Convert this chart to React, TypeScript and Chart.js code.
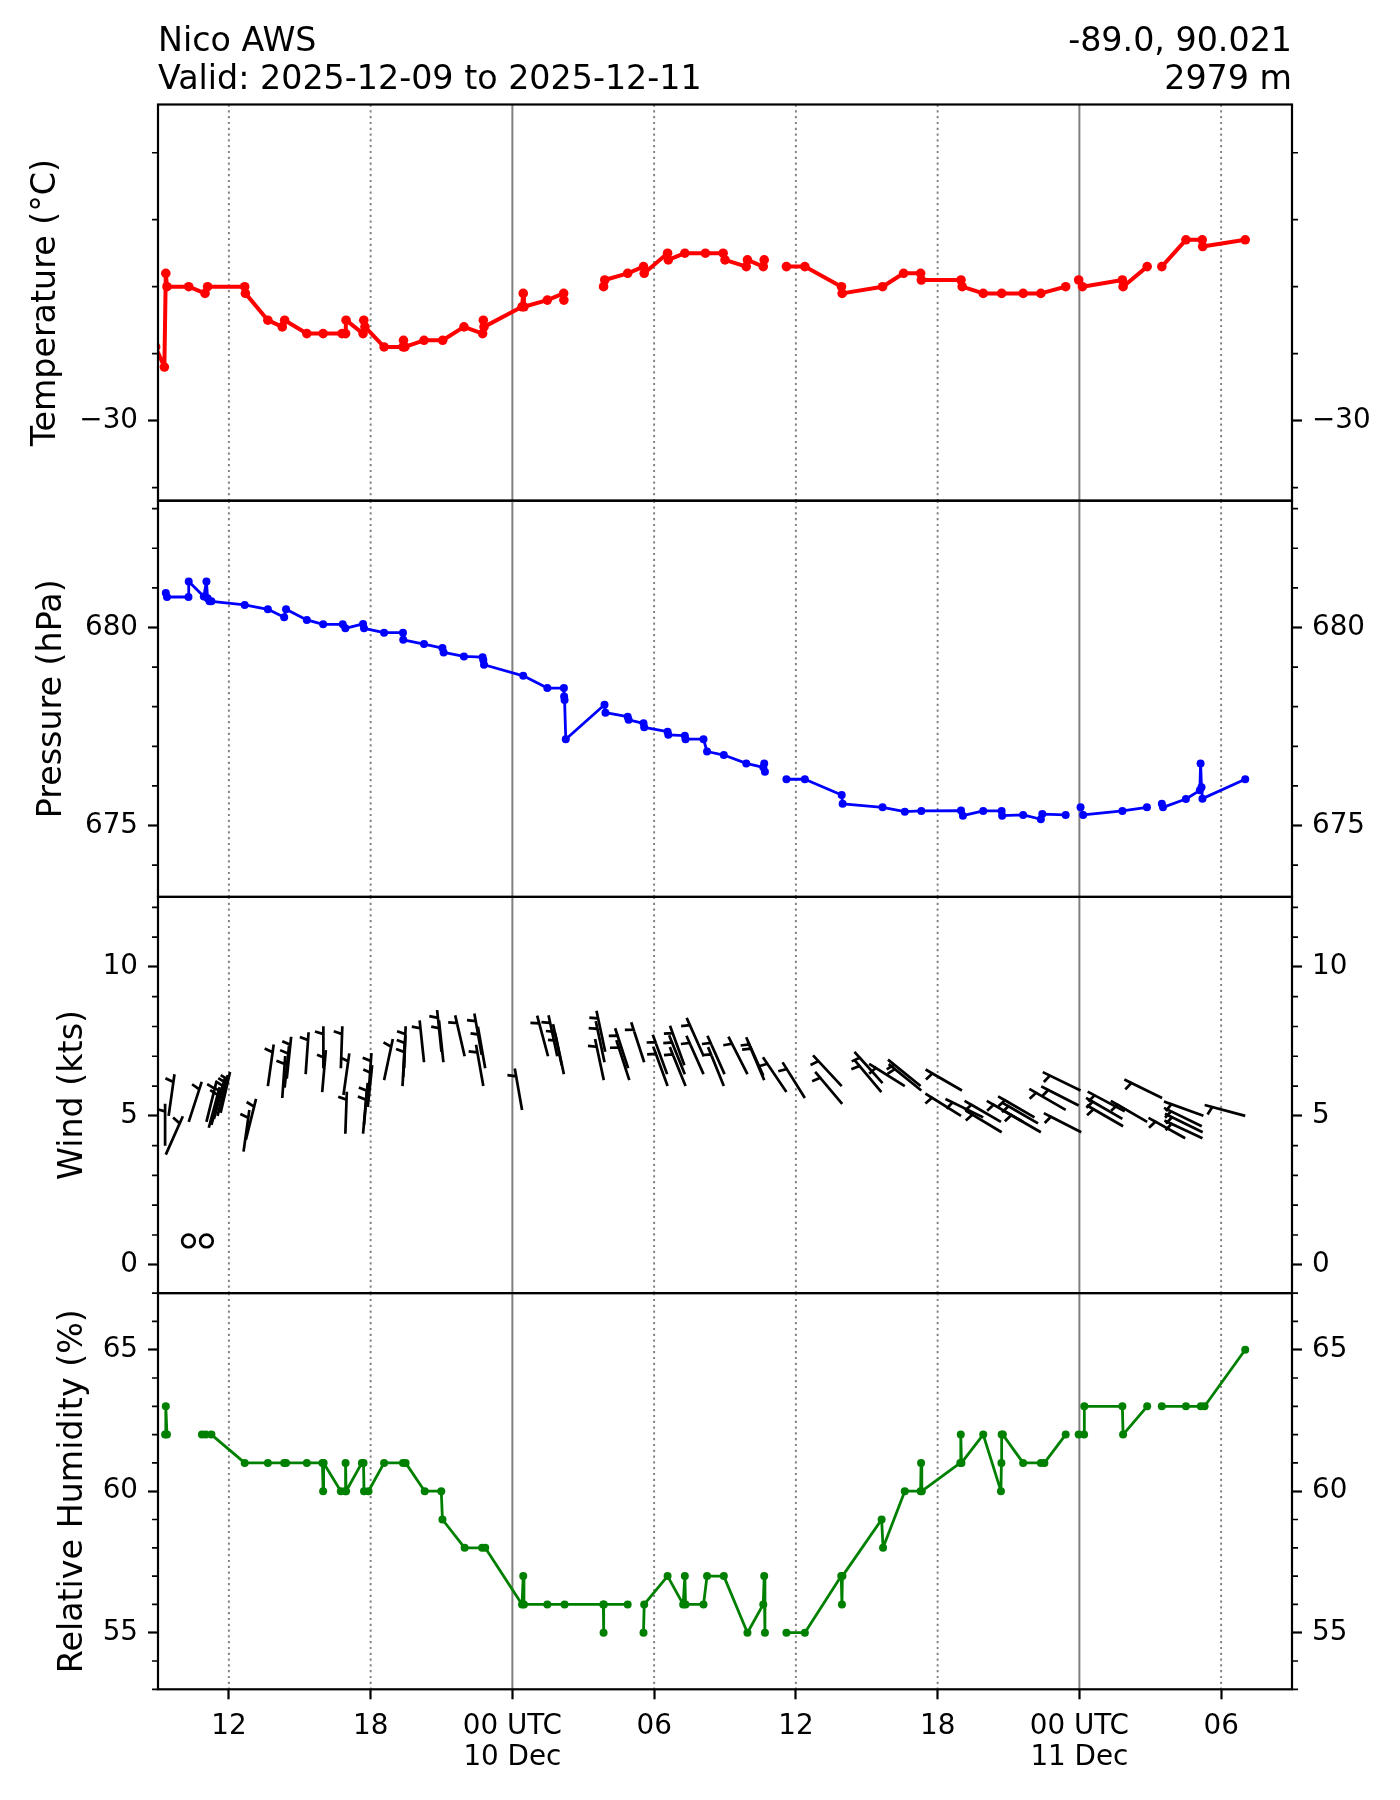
import React, { useEffect, useRef } from 'react';
import { Chart, registerables } from 'chart.js';

Chart.register(...registerables);

// ---------------- data (time axis = hours since 2025-12-09 00:00 UTC) ----------------
const X_MIN = 9;
const X_MAX = 57;
const X_TICKS = [12, 18, 24, 30, 36, 42, 48, 54];
const X_TICK_LABELS: (string | string[])[] = ['12', '18', ['00 UTC', '10 Dec'], '06', '12', '18', ['00 UTC', '11 Dec'], '06'];
const X_DAY_TICKS = [24, 48];

const HEADER_LEFT = ['Nico AWS', 'Valid: 2025-12-09 to 2025-12-11'];
const HEADER_RIGHT = ['-89.0, 90.021', '2979 m'];

const TEMP_LABEL = 'Temperature (°C)';
const TEMP_RANGE = [-32.39, -20.56];
const TEMP_TICKS = [-30];
const TEMP_MINOR_TICKS = [-32, -28, -26, -24, -22];
const TEMP_HOURS = [8.9, 9.27, 9.33, 9.38, 10.3, 10.99, 11.1, 12.67, 12.7, 13.65, 14.26, 14.36, 15.3, 15.99, 16.79, 16.94, 16.96, 17.68, 17.71, 17.76, 18.57, 19.37, 19.39, 19.45, 20.26, 21.05, 21.95, 22.74, 22.77, 22.8, 24.41, 24.46, 24.49, 25.48, 26.17, 26.18, 27.0, 27.86, 27.91, 28.88, 29.55, 29.58, 30.57, 30.6, 31.3, 32.17, 32.92, 33.0, 33.9, 33.95, 34.62, 34.66, 35.1, 35.6, 36.38, 37.93, 37.96, 39.67, 40.56, 41.28, 41.31, 42.99, 43.04, 43.93, 44.71, 45.62, 46.37, 47.42, 47.7, 47.97, 48.13, 49.82, 49.85, 50.87, 51.2, 51.49, 52.51, 53.2, 53.22, 55.02];
const TEMP_VALUES = [-27.8, -28.4, -25.6, -26.0, -26.0, -26.2, -26.0, -26.0, -26.2, -27.0, -27.2, -27.0, -27.4, -27.4, -27.4, -27.4, -27.0, -27.4, -27.0, -27.2, -27.8, -27.8, -27.6, -27.8, -27.6, -27.6, -27.2, -27.4, -27.0, -27.2, -26.6, -26.2, -26.6, -26.4, -26.2, -26.4, null, -26.0, -25.8, -25.6, -25.4, -25.6, -25.0, -25.2, -25.0, -25.0, -25.0, -25.2, -25.4, -25.2, -25.4, -25.2, null, -25.4, -25.4, -26.0, -26.2, -26.0, -25.6, -25.6, -25.8, -25.8, -26.0, -26.2, -26.2, -26.2, -26.2, -26.0, null, -25.8, -26.0, -25.8, -26.0, -25.4, null, -25.4, -24.6, -24.6, -24.8, -24.6];

const PRES_LABEL = 'Pressure (hPa)';
const PRES_RANGE = [673.2, 683.2];
const PRES_TICKS = [675, 680];
const PRES_MINOR_TICKS = [674, 676, 677, 678, 679, 681, 682, 683];
const PRES_HOURS = [9.33, 9.38, 10.29, 10.3, 10.94, 11.05, 11.1, 11.18, 11.26, 12.67, 13.65, 14.34, 14.42, 15.3, 15.99, 16.82, 16.93, 17.68, 17.72, 18.57, 19.37, 19.38, 20.26, 21.04, 21.09, 21.95, 22.74, 22.77, 22.8, 24.46, 25.48, 26.18, 26.19, 26.21, 26.26, 27.9, 27.94, 28.88, 28.92, 29.55, 29.58, 30.57, 30.6, 31.3, 31.33, 32.09, 32.24, 32.95, 33.9, 34.62, 34.66, 34.69, 35.1, 35.6, 36.38, 37.94, 37.98, 39.67, 40.61, 41.31, 42.99, 43.07, 43.93, 44.71, 44.73, 45.62, 46.37, 46.43, 47.42, 47.7, 48.05, 48.16, 49.82, 50.86, 51.2, 51.49, 51.54, 52.51, 53.1, 53.13, 53.17, 53.21, 55.02];
const PRES_VALUES = [680.87, 680.77, 680.77, 681.16, 680.78, 681.16, 680.74, 680.66, 680.66, 680.57, 680.46, 680.26, 680.46, 680.19, 680.08, 680.08, 679.98, 680.09, 679.98, 679.87, 679.87, 679.69, 679.58, 679.48, 679.37, 679.27, 679.25, 679.18, 679.06, 678.78, 678.47, 678.47, 678.26, 678.17, 677.18, 678.05, 677.85, 677.75, 677.67, 677.58, 677.48, 677.37, 677.29, 677.27, 677.18, 677.18, 676.87, 676.78, 676.57, 676.47, 676.57, 676.36, null, 676.17, 676.17, 675.77, 675.55, 675.46, 675.35, 675.37, 675.38, 675.25, 675.37, 675.37, 675.25, 675.27, 675.16, 675.29, 675.27, null, 675.46, 675.27, 675.37, 675.46, null, 675.55, 675.46, 675.67, 675.89, 676.57, 675.97, 675.68, 676.17];

const WIND_LABEL = 'Wind (kts)';
const WIND_RANGE = [-0.95, 12.35];
const WIND_TICKS = [0, 5, 10];
const WIND_MINOR_TICKS = [1, 2, 3, 4, 6, 7, 8, 9, 11, 12];
const WIND_HOURS = [9.3, 9.33, 9.45, 10.29, 10.3, 11.05, 11.05, 11.15, 11.26, 11.37, 11.52, 11.65, 12.62, 12.72, 13.65, 14.26, 14.36, 14.45, 15.25, 15.95, 16.0, 16.74, 16.85, 16.93, 17.68, 17.72, 17.88, 17.91, 18.57, 19.35, 19.38, 19.42, 20.26, 21.0, 21.08, 21.98, 22.7, 22.77, 22.85, 24.41, 25.51, 25.9, 26.09, 26.18, 27.87, 27.9, 27.93, 28.9, 28.95, 29.58, 30.55, 30.57, 31.28, 31.3, 31.33, 32.09, 32.1, 32.95, 32.98, 33.95, 34.62, 34.66, 35.6, 36.38, 37.94, 37.96, 39.62, 39.67, 40.61, 41.28, 41.31, 42.99, 43.03, 43.93, 44.68, 44.71, 45.62, 46.1, 46.25, 46.37, 47.42, 47.97, 48.05, 48.08, 49.82, 49.85, 49.92, 50.87, 51.5, 52.48, 53.18, 53.21, 53.22, 53.25, 55.02];
const WIND_SPEEDS = [4.0, 3.7, 5.0, 0.8, 4.8, 0.8, 4.8, 4.6, 4.7, 4.9, 5.0, 5.1, 3.8, 4.2, 6.0, 5.6, 5.95, 6.25, 6.4, 5.8, 6.6, 6.6, 5.7, 4.4, 4.4, 4.7, 5.3, 5.7, 6.2, 6.0, 6.3, 6.6, 6.8, 7.15, 6.8, 7.0, 7.05, 6.0, 6.6, 5.2, 7.0, 7.0, 6.7, 6.4, 6.2, 6.8, 7.15, 6.6, 6.2, 6.8, 6.4, 6.0, 6.7, 6.4, 6.0, 6.4, 7.0, 6.0, 6.4, 6.4, 6.35, 6.2, 5.8, 5.6, 6.0, 5.4, 5.8, 6.1, 6.0, 6.0, 5.85, 5.0, 5.85, 4.95, 4.8, 4.45, 4.8, 4.95, 4.75, 4.45, 5.2, 5.35, 5.85, 4.45, 4.9, 4.65, 5.15, 4.8, 5.6, 4.25, 4.65, 4.25, 4.45, 5.0, 5.0];
const WIND_DIRS = [0, 24, 8, 0, 18, 0, 14, 15, 16, 15, 14, 13, 8, 14, 8, 4, 6, 6, 4, 5, 0, 2, 8, 2, 5, 5, 6, 4, 12, 3, 3, 2, 354, 354, 354, 347, 350, 350, 350, 350, 345, 348, 348, 348, 348, 348, 348, 342, 342, 342, 340, 340, 340, 338, 338, 336, 336, 338, 336, 333, 336, 337, 326, 328, 317, 320, 320, 318, 302, 309, 309, 302, 300, 296, 300, 301, 300, 300, 300, 300, 300, 297, 296, 297, 300, 300, 298, 300, 296, 299, 296, 295, 296, 290, 285];

const RH_LABEL = 'Relative Humidity (%)';
const RH_RANGE = [53, 67];
const RH_TICKS = [55, 60, 65];
const RH_MINOR_TICKS = [53, 54, 56, 57, 58, 59, 61, 62, 63, 64, 66, 67];
const RH_HOURS = [9.3, 9.33, 9.38, 10.0, 10.86, 11.02, 11.26, 12.67, 13.65, 14.34, 14.42, 15.3, 15.96, 15.99, 16.01, 16.74, 16.92, 16.94, 16.96, 17.63, 17.7, 17.72, 17.91, 18.57, 19.37, 19.48, 20.29, 20.99, 21.04, 21.98, 22.72, 22.85, 24.41, 24.46, 24.49, 25.48, 26.21, 27.85, 27.86, 27.87, 28.88, 29.2, 29.55, 29.58, 30.57, 31.23, 31.3, 31.33, 32.09, 32.24, 32.95, 33.95, 34.62, 34.66, 34.69, 35.1, 35.6, 36.38, 37.92, 37.95, 37.97, 39.63, 39.69, 40.61, 41.28, 41.3, 41.33, 42.96, 42.98, 43.01, 43.93, 44.68, 44.7, 44.71, 44.76, 45.62, 46.37, 46.52, 47.42, 47.7, 47.97, 48.2, 48.21, 49.82, 49.85, 50.87, 51.2, 51.49, 52.51, 53.14, 53.3, 55.02];
const RH_VALUES = [62, 63, 62, null, 62, 62, 62, 61, 61, 61, 61, 61, 61, 60, 61, 60, 60, 61, 60, 61, 61, 60, 60, 61, 61, 61, 60, 60, 59, 58, 58, 58, 56, 57, 56, 56, 56, 56, 55, 56, 56, null, 55, 56, 57, 56, 57, 56, 56, 57, 57, 55, 56, 57, 55, null, 55, 55, 57, 56, 57, 59, 58, 60, 60, 61, 60, 61, 62, 61, 62, 60, 61, 62, 62, 61, 61, 61, 62, null, 62, 62, 63, 63, 62, 63, null, 63, 63, 63, 63, 65];

// ---------------- layout & style ----------------
const CANVAS_W = 1400;
const CANVAS_H = 1800;
const PLOT_LEFT = 158;
const PLOT_RIGHT = 1292;
const PANEL_TOP = 104.5;
const PANEL_HEIGHT = 396.2;
const FONT = 'DejaVu Sans';
const TICK_FONT = 27.8;
const LABEL_FONT = 33.3;

Chart.defaults.font.family = FONT;
Chart.defaults.color = '#000';

const fmt = (v: number) => (v < 0 ? '\u2212' + Math.abs(v) : String(v));
const pts = (xs: number[], ys: (number | null)[]) => xs.map((x, i) => ({ x, y: ys[i] }));

// matplotlib-style wind barb (flipped for the southern hemisphere)
function drawBarb(ctx: CanvasRenderingContext2D, px: number, py: number, speed: number, dirDeg: number) {
  const L = 42;
  const spacing = L * 0.125;
  const fh = L * 0.4;
  const fw = L * 0.25;
  const rounded = 5 * Math.round(speed / 5);
  if (rounded === 0) {
    ctx.beginPath();
    ctx.arc(px, py, L * 0.15, 0, Math.PI * 2);
    ctx.stroke();
    return;
  }
  const d = (dirDeg * Math.PI) / 180;
  const ux = Math.sin(d);
  const uy = -Math.cos(d);
  const sx = -Math.cos(d);
  const sy = -Math.sin(d);
  const P = (a: number, b: number) => [px + ux * a + sx * b, py + uy * a + sy * b];
  const nflags = Math.floor(rounded / 50);
  let rem = rounded - nflags * 50;
  const nfull = Math.floor(rem / 10);
  rem -= nfull * 10;
  const half = rem >= 5;
  let offset = L;
  const verts: number[][] = [P(0, 0)];
  for (let i = 0; i < nflags; i++) {
    if (offset !== L) offset += spacing / 2;
    verts.push(P(offset, 0), P(offset - fw / 2, fh), P(offset - fw, 0));
    offset -= fw + spacing;
  }
  for (let i = 0; i < nfull; i++) {
    verts.push(P(offset, 0), P(offset + fw / 2, fh), P(offset, 0));
    offset -= spacing;
  }
  if (half) {
    if (offset === L) {
      verts.push(P(offset, 0));
      offset -= 1.5 * spacing;
    }
    verts.push(P(offset, 0), P(offset + fw / 4, fh / 2), P(offset, 0));
  }
  ctx.beginPath();
  ctx.moveTo(verts[0][0], verts[0][1]);
  for (let i = 1; i < verts.length; i++) ctx.lineTo(verts[i][0], verts[i][1]);
  ctx.closePath();
  ctx.stroke();
}

const vgridPlugin = {
  id: 'vgrid',
  beforeDatasetsDraw(chart: any) {
    const { ctx, chartArea: a, scales } = chart;
    ctx.save();
    ctx.strokeStyle = '#808080';
    X_TICKS.forEach((v) => {
      const px = scales.x.getPixelForValue(v);
      const day = X_DAY_TICKS.includes(v);
      ctx.lineWidth = day ? 2 : 1.9;
      ctx.setLineDash(day ? [] : [2.2, 3.6]);
      ctx.beginPath();
      ctx.moveTo(px, a.top);
      ctx.lineTo(px, a.bottom);
      ctx.stroke();
    });
    ctx.restore();
  },
};

const makeFramePlugin = (minor: number[]) => ({
  id: 'frame',
  afterDraw(chart: any) {
    const { ctx, chartArea: a, scales } = chart;
    ctx.save();
    ctx.setLineDash([]);
    ctx.strokeStyle = '#000';
    ctx.lineWidth = 1.7;
    minor.forEach((v) => {
      const py = scales.y.getPixelForValue(v);
      if (py < a.top - 1 || py > a.bottom + 1) return;
      ctx.beginPath();
      ctx.moveTo(a.left - 6, py);
      ctx.lineTo(a.left, py);
      ctx.moveTo(a.right, py);
      ctx.lineTo(a.right + 6, py);
      ctx.stroke();
    });
    ctx.lineWidth = 2.2;
    ctx.strokeRect(a.left, a.top, a.right - a.left, a.bottom - a.top);
    ctx.restore();
  },
});

const headerPlugin = {
  id: 'header',
  afterDraw(chart: any) {
    const { ctx } = chart;
    ctx.save();
    ctx.fillStyle = '#000';
    ctx.font = `${LABEL_FONT}px "${FONT}"`;
    ctx.textBaseline = 'alphabetic';
    ctx.textAlign = 'left';
    HEADER_LEFT.forEach((t, i) => ctx.fillText(t, PLOT_LEFT, 51 + i * 38));
    ctx.textAlign = 'right';
    HEADER_RIGHT.forEach((t, i) => ctx.fillText(t, PLOT_RIGHT, 51 + i * 38));
    ctx.restore();
  },
};

const barbPlugin = {
  id: 'barbs',
  afterDatasetsDraw(chart: any) {
    const { ctx, chartArea: a, scales } = chart;
    const data = chart.data.datasets[0].data;
    ctx.save();
    ctx.beginPath();
    ctx.rect(a.left, a.top, a.right - a.left, a.bottom - a.top);
    ctx.clip();
    ctx.strokeStyle = '#000';
    ctx.lineWidth = 2.7;
    ctx.lineJoin = 'miter';
    ctx.lineCap = 'butt';
    data.forEach((p: any, i: number) => {
      drawBarb(ctx, scales.x.getPixelForValue(p.x), scales.y.getPixelForValue(p.y), p.y, WIND_DIRS[i]);
    });
    ctx.restore();
  },
};

type Spec = {
  id: string;
  index: number;
  label: string;
  labelPad: number;
  range: number[];
  ticks: number[];
  minor: number[];
  dataset: any;
  extra: any[];
};

const lineSet = (xs: number[], ys: (number | null)[], color: string, width: number, radius: number) => ({
  data: pts(xs, ys),
  borderColor: color,
  backgroundColor: color,
  borderWidth: width,
  pointRadius: radius,
  pointBorderWidth: 0,
  pointBackgroundColor: color,
  spanGaps: false,
  tension: 0,
  borderJoinStyle: 'round',
});

const PANELS: Spec[] = [
  { id: 'temp', index: 0, label: TEMP_LABEL, labelPad: 26.7, range: TEMP_RANGE, ticks: TEMP_TICKS, minor: TEMP_MINOR_TICKS,
    dataset: lineSet(TEMP_HOURS, TEMP_VALUES, '#ff0000', 4, 4.8), extra: [headerPlugin] },
  { id: 'pres', index: 1, label: PRES_LABEL, labelPad: 32.5, range: PRES_RANGE, ticks: PRES_TICKS, minor: PRES_MINOR_TICKS,
    dataset: lineSet(PRES_HOURS, PRES_VALUES, '#0000ff', 2.8, 4), extra: [] },
  { id: 'wind', index: 2, label: WIND_LABEL, labelPad: 53.7, range: WIND_RANGE, ticks: WIND_TICKS, minor: WIND_MINOR_TICKS,
    dataset: { data: pts(WIND_HOURS, WIND_SPEEDS), showLine: false, pointRadius: 0, borderWidth: 0 }, extra: [barbPlugin] },
  { id: 'rh', index: 3, label: RH_LABEL, labelPad: 53.7, range: RH_RANGE, ticks: RH_TICKS, minor: RH_MINOR_TICKS,
    dataset: lineSet(RH_HOURS, RH_VALUES, '#008000', 2.8, 4), extra: [] },
];

function buildConfig(spec: Spec): any {
  const top = PANEL_TOP + spec.index * PANEL_HEIGHT;
  const bottom = top + PANEL_HEIGHT;
  const isBottom = spec.index === 3;
  const yAxis = (side: 'left' | 'right') => ({
    type: 'linear',
    axis: 'y',
    position: side,
    min: spec.range[0],
    max: spec.range[1],
    bounds: 'data',
    afterBuildTicks: (s: any) => { s.ticks = spec.ticks.map((v) => ({ value: v })); },
    afterFit: (s: any) => { s.width = side === 'left' ? PLOT_LEFT : CANVAS_W - PLOT_RIGHT; },
    grid: { display: true, drawOnChartArea: false, drawTicks: true, tickLength: 10, tickWidth: 2.2, tickColor: '#000' },
    border: { display: false },
    ticks: { color: '#000', font: { family: FONT, size: TICK_FONT }, padding: 10, callback: (v: number) => fmt(v) },
    title: side === 'left'
      ? { display: true, text: spec.label, color: '#000', font: { family: FONT, size: LABEL_FONT, lineHeight: 1.2 }, padding: { top: spec.labelPad, bottom: 0 } }
      : { display: false },
  });
  const xAxis = isBottom
    ? {
        type: 'linear',
        min: X_MIN,
        max: X_MAX,
        bounds: 'data',
        afterBuildTicks: (s: any) => { s.ticks = X_TICKS.map((v) => ({ value: v })); },
        afterFit: (s: any) => { s.height = CANVAS_H - bottom; },
        grid: { display: true, drawOnChartArea: false, drawTicks: true, tickLength: 10, tickWidth: 2.2, tickColor: '#000' },
        border: { display: false },
        ticks: {
          color: '#000',
          font: { family: FONT, size: TICK_FONT, lineHeight: 1.115 },
          padding: 11.6,
          maxRotation: 0,
          minRotation: 0,
          autoSkip: false,
          callback: (v: number) => {
            const i = X_TICKS.indexOf(v);
            return i >= 0 ? X_TICK_LABELS[i] : '';
          },
        },
      }
    : { type: 'linear', min: X_MIN, max: X_MAX, display: false };
  return {
    type: 'line',
    data: { datasets: [spec.dataset] },
    options: {
      responsive: false,
      animation: false,
      events: [],
      layout: { padding: { left: 0, right: 0, top, bottom: isBottom ? 0 : CANVAS_H - bottom } },
      plugins: { legend: { display: false }, tooltip: { enabled: false }, title: { display: false } },
      scales: { x: xAxis, y: yAxis('left'), yRight: yAxis('right') },
    },
    plugins: [vgridPlugin, makeFramePlugin(spec.minor), ...spec.extra],
  };
}

function PanelChart({ spec }: { spec: Spec }) {
  const ref = useRef<HTMLCanvasElement>(null);
  useEffect(() => {
    if (!ref.current) return;
    const chart = new Chart(ref.current, buildConfig(spec));
    return () => chart.destroy();
  }, [spec]);
  return (
    <canvas
      ref={ref}
      width={CANVAS_W}
      height={CANVAS_H}
      style={{ position: 'absolute', left: 0, top: 0, width: CANVAS_W, height: CANVAS_H }}
    />
  );
}

export default function App() {
  useEffect(() => {
    document.body.style.margin = '0';
  }, []);
  return (
    <div style={{ position: 'absolute', left: 0, top: 0, width: CANVAS_W, height: CANVAS_H, background: '#fff' }}>
      {PANELS.map((p) => (
        <PanelChart key={p.id} spec={p} />
      ))}
    </div>
  );
}
